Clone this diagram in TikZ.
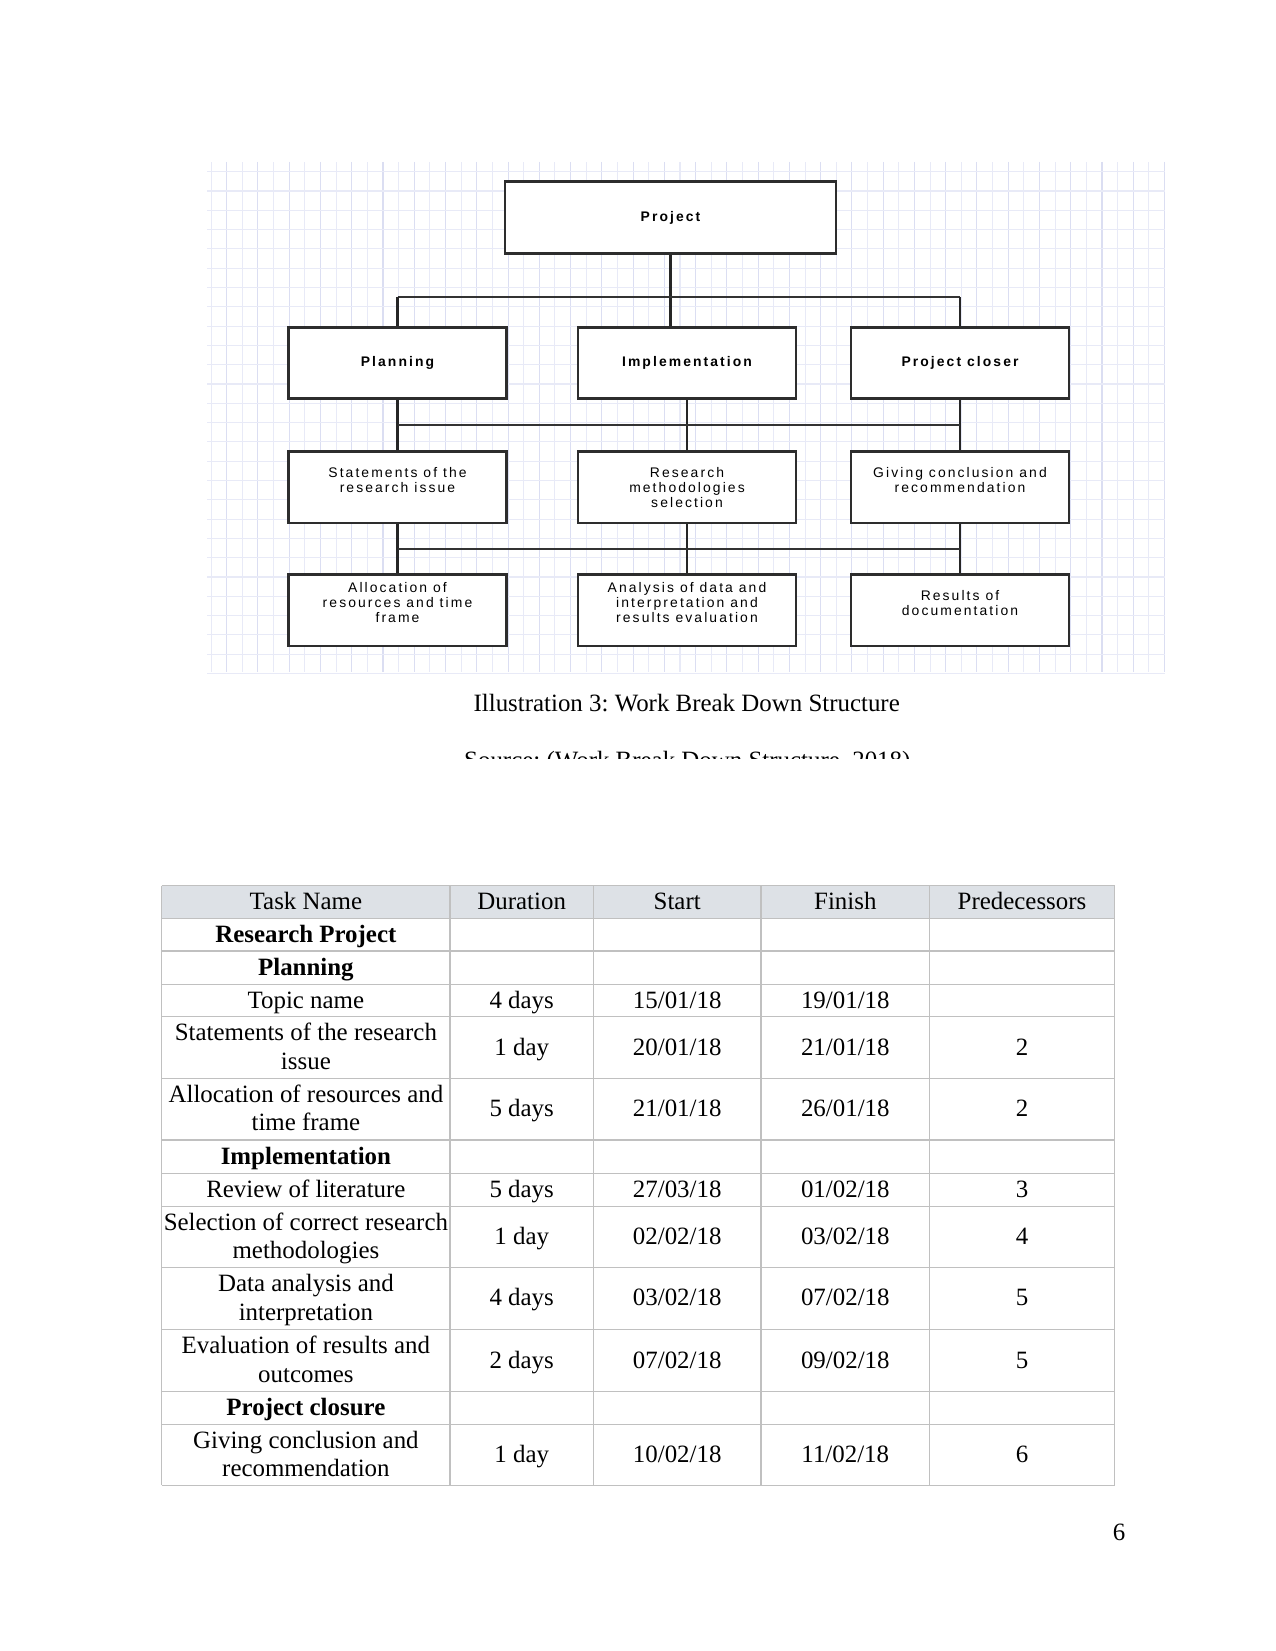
\documentclass[tikz,border=0pt]{standalone}
\usepackage{fontspec}
\setmainfont{Liberation Serif}
\newfontfamily\wbsfont[LetterSpace=15]{Liberation Sans}
\usetikzlibrary{calc}
\definecolor{gridline}{RGB}{232,234,247}
\definecolor{gridmajor}{RGB}{219,222,242}
\definecolor{headfill}{RGB}{221,225,230}
\definecolor{rulegray}{RGB}{192,192,192}
\definecolor{boxline}{RGB}{45,45,45}
\newcommand\topstrut{\rule{0pt}{10.9pt}}
\newcommand\botstrut{\rule[-3.6pt]{0pt}{0pt}}
\frenchspacing

\begin{document}
\begin{tikzpicture}[x=0.4818pt, y=-0.4818pt,
  wbs/.style={draw=boxline, line width=1.3pt, fill=white, minimum width=105pt, minimum height=34.4pt,
    align=center, inner sep=1pt, font=\wbsfont\fontsize{6.7}{7.2}\selectfont},
  wbshead/.style={wbs, font=\wbsfont\bfseries\fontsize{6.7}{7.2}\selectfont},
  link/.style={draw=black!85, line width=1.2pt},
  bus/.style={draw=black!80, line width=0.9pt},
  rule/.style={draw=rulegray, line width=0.5pt},
  cell/.style={align=center, inner sep=0pt, font=\fontsize{12}{13.6}\selectfont},
  body/.style={anchor=base, font=\fontsize{12}{14}\selectfont}]
  \useasboundingbox (0,0) rectangle (1275,1651);

  % Grid paper behind the chart
  \foreach \k in {-1,...,60}{
    \pgfmathtruncatemacro{\even}{mod(\k+2,2)}
    \ifnum\even=0 \def\gc{gridmajor}\else \def\gc{gridline}\fi
    \draw[\gc, line width=0.5pt] ({226.7+15.63*\k},162) -- ({226.7+15.63*\k},672);
  }
  \foreach \k in {0,...,26}
    \draw[gridline, line width=0.5pt] (207,{171.7+19.3*\k}) -- (1165,{171.7+19.3*\k});

  % Work break down structure
  \node[wbshead, minimum width=159.5pt] (proj) at (670.5,217.5) {Project};
  \node[wbshead] (plan) at (397.5,363) {Planning};
  \node[wbshead] (impl) at (687,363) {Implementation};
  \node[wbshead] (close) at (960,363) {Project closer};

  \node[wbs] (stmt) at (397.5,487.3) {Statements of the\\research issue\\~};
  \node[wbs] (meth) at (687,487.3) {Research\\methodologies\\selection};
  \node[wbs] (give) at (960,487.3) {Giving conclusion and\\recommendation\\~};

  \node[wbs] (alloc) at (397.5,610.3) {Allocation of\\resources and time\\frame\\~};
  \node[wbs] (anal) at (687,610.3) {Analysis of data and\\interpretation and\\results evaluation\\~};
  \node[wbs] (docs) at (960,610.3) {Results of\\documentation\\~};

  \coordinate (topbus) at ($(proj.south)!0.6!(proj.south |- impl.north)$);
  \draw[link] (proj.south) -- (proj.south |- impl.north);
  \draw[bus] (plan.north |- topbus) -- (close.north |- topbus);
  \draw[link] (plan.north |- topbus) -- (plan.north);
  \draw[link] (close.north |- topbus) -- (close.north);

  \draw[link] (plan.south) -- (stmt.north);
  \draw[link] (impl.south) -- (meth.north);
  \draw[link] (close.south) -- (give.north);
  \draw[bus] ($(plan.south)!0.5!(stmt.north)$) -- ($(close.south)!0.5!(give.north)$);

  \draw[link] (stmt.south) -- (alloc.north);
  \draw[link] (meth.south) -- (anal.north);
  \draw[link] (give.south) -- (docs.north);
  \draw[bus] ($(stmt.south)!0.5!(alloc.north)$) -- ($(give.south)!0.5!(docs.north)$);

  % Caption and source (cut off)
  \node[body] (caption) at (686.7,711.7) {Illustration 3: Work Break Down Structure};
  \begin{scope}
    \clip (0,735) rectangle (1275,758);
    \node[body] (source) at (687.3,768.4) {Source: (Work Break Down Structure, 2018)};
  \end{scope}

  % Schedule table
  \fill[headfill] (161.7,885.7) rectangle (1114.5,918.3);
  \foreach \x in {161.7,593.3,761,929.6,1114.5}
    \draw[rule] (\x,885.7) -- (\x,1485.3);
  \draw[rule, line width=0.9pt] (450,885.7) -- (450,1485.3);
  \foreach \y in {885.7,918.3,951,984.3,1016.7,1078.3,1140,1173.3,1206.7,1267.3,1329.3,1391.7,1424.3,1485.3}
    \draw[rule] (161.7,\y) -- (1114.5,\y);

  \foreach \ya/\yb/\task/\dur/\st/\fin/\pre [count=\r] in {
      885.7/918.3/{Task Name}/Duration/Start/Finish/Predecessors,
      918.3/951/{\textbf{Research Project}}/{}/{}/{}/{},
      951/984.3/{\textbf{Planning}}/{}/{}/{}/{},
      984.3/1016.7/{Topic name}/{4 days}/15\slash 01\slash 18/19\slash 01\slash 18/{},
      1016.7/1078.3/{Statements of the research\\issue}/{1 day}/20\slash 01\slash 18/21\slash 01\slash 18/2,
      1078.3/1140/{Allocation of resources and\\time frame}/{5 days}/21\slash 01\slash 18/26\slash 01\slash 18/2,
      1140/1173.3/{\textbf{Implementation}}/{}/{}/{}/{},
      1173.3/1206.7/{Review of literature}/{5 days}/27\slash 03\slash 18/01\slash 02\slash 18/3,
      1206.7/1267.3/{Selection of correct research\\methodologies}/{1 day}/02\slash 02\slash 18/03\slash 02\slash 18/4,
      1267.3/1329.3/{Data analysis and\\interpretation}/{4 days}/03\slash 02\slash 18/07\slash 02\slash 18/5,
      1329.3/1391.7/{Evaluation of results and\\outcomes}/{2 days}/07\slash 02\slash 18/09\slash 02\slash 18/5,
      1391.7/1424.3/{\textbf{Project closure}}/{}/{}/{}/{},
      1424.3/1485.3/{Giving conclusion and\\recommendation}/{1 day}/10\slash 02\slash 18/11\slash 02\slash 18/6}{
    \node[cell] (task\r) at (305.9,{(\ya+\yb)/2}) {\topstrut\task\botstrut};
    \node[cell] (dur\r) at (521.7,{(\ya+\yb)/2}) {\topstrut\dur\botstrut};
    \node[cell] (start\r) at (677.2,{(\ya+\yb)/2}) {\topstrut\st\botstrut};
    \node[cell] (finish\r) at (845.3,{(\ya+\yb)/2}) {\topstrut\fin\botstrut};
    \node[cell] (pred\r) at (1022,{(\ya+\yb)/2}) {\topstrut\pre\botstrut};
  }

  % Page number
  \node[body] (pageno) at (1119,1540) {6};
\end{tikzpicture}
\end{document}
